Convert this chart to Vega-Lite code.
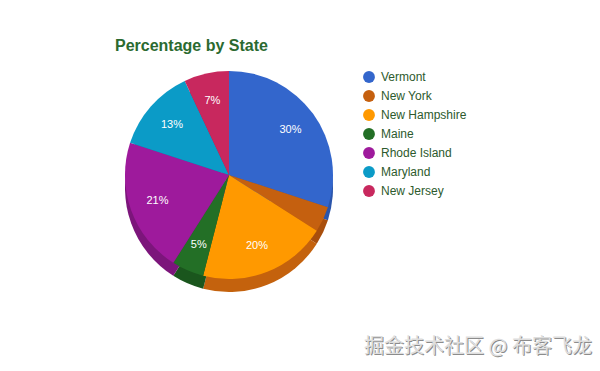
{
  "$schema": "https://vega.github.io/schema/vega-lite/v6.json",
  "autosize": "none",
  "width": 228,
  "height": 210,
  "padding": {"left": 115, "top": 70, "right": 257, "bottom": 91},
  "background": "white",
  "title": {
    "text": "Percentage by State",
    "anchor": "start",
    "orient": "top",
    "offset": 16,
    "fontSize": 16,
    "fontWeight": "bold",
    "font": "Liberation Sans",
    "color": "#2b6a30"
  },
  "data": {
    "values": [
      {"state": "Vermont", "pct": 0.30, "idx": 1},
      {"state": "New York", "pct": 0.04, "idx": 2},
      {"state": "New Hampshire", "pct": 0.20, "idx": 3},
      {"state": "Maine", "pct": 0.05, "idx": 4},
      {"state": "Rhode Island", "pct": 0.21, "idx": 5},
      {"state": "Maryland", "pct": 0.13, "idx": 6},
      {"state": "New Jersey", "pct": 0.07, "idx": 7}
    ]
  },
  "layer": [
    {
      "mark": {"type": "arc", "outerRadius": 104, "yOffset": 13},
      "encoding": {
        "theta": {"field": "pct", "type": "quantitative", "stack": true},
        "order": {"field": "idx", "type": "quantitative"},
        "color": {
          "field": "state",
          "type": "nominal",
          "legend": null,
          "scale": {
            "domain": ["Vermont", "New York", "New Hampshire", "Maine", "Rhode Island", "Maryland", "New Jersey"],
            "range": ["#2a55ab", "#a94f0c", "#c4620d", "#1a561d", "#7c157b", "#077aa0", "#9e1f4a"]
          }
        }
      }
    },
    {
      "mark": {"type": "arc", "outerRadius": 104},
      "encoding": {
        "theta": {"field": "pct", "type": "quantitative", "stack": true},
        "order": {"field": "idx", "type": "quantitative"},
        "color": {
          "field": "state",
          "type": "nominal",
          "sort": null,
          "scale": {
            "domain": ["Vermont", "New York", "New Hampshire", "Maine", "Rhode Island", "Maryland", "New Jersey"],
            "range": ["#3366cc", "#c5600f", "#ff9900", "#236f26", "#9e1a9c", "#0b9bc7", "#c8285e"]
          },
          "legend": {
            "orient": "none",
            "legendX": 248,
            "legendY": 1,
            "title": null,
            "symbolType": "circle",
            "symbolSize": 140,
            "symbolStrokeWidth": 0,
            "labelFontSize": 12,
            "labelFont": "Liberation Sans",
            "labelColor": "#2d5a2d",
            "labelOffset": 6,
            "rowPadding": 7
          }
        }
      }
    },
    {
      "mark": {"type": "text", "radius": 76, "fontSize": 11, "font": "Liberation Sans", "color": "white"},
      "encoding": {
        "theta": {"field": "pct", "type": "quantitative", "stack": true},
        "order": {"field": "idx", "type": "quantitative"},
        "text": {
          "condition": {"test": "datum.pct < 0.05", "value": ""},
          "field": "pct",
          "type": "quantitative",
          "format": ".0%"
        }
      }
    },
    {
      "data": {"values": [{"t": "掘金技术社区 @ 布客飞龙"}]},
      "mark": {"type": "text", "x": 478, "y": 278, "align": "right", "baseline": "middle", "fontSize": 20, "font": "Noto Sans CJK SC", "color": "#8c8c8c"},
      "encoding": {"text": {"field": "t", "type": "nominal"}}
    },
    {
      "data": {"values": [{"t": "掘金技术社区 @ 布客飞龙"}]},
      "mark": {"type": "text", "x": 477, "y": 277, "align": "right", "baseline": "middle", "fontSize": 20, "font": "Noto Sans CJK SC", "color": "#dedede"},
      "encoding": {"text": {"field": "t", "type": "nominal"}}
    }
  ],
  "resolve": {"scale": {"color": "independent"}},
  "config": {"view": {"stroke": null}}
}
